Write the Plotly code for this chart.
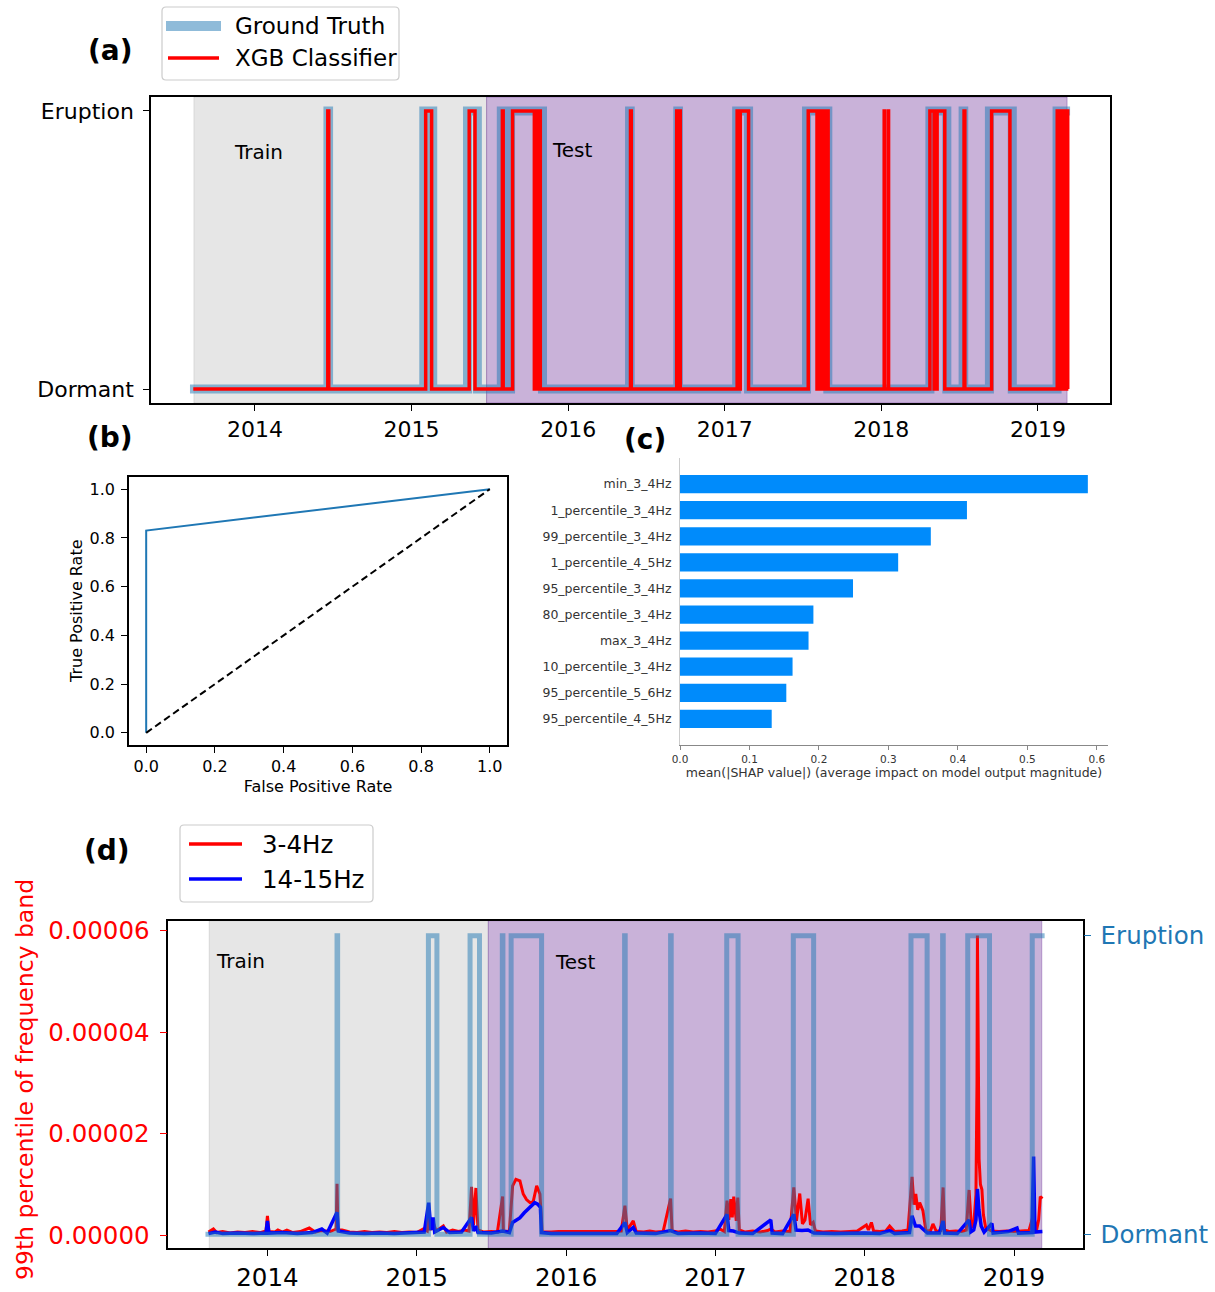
import plotly.graph_objects as go

# ---------------- data ----------------
# Panel (a)/(d): time axis in decimal years
DATA_START = 2013.585
DATA_END = 2019.205
TRAIN_START = 2013.61
SPLIT = 2015.479
TEST_END = 2019.186

GT_START = [2014.466, 2015.078, 2015.357, 2015.573, 2015.632, 2016.392, 2016.700,
            2017.076, 2017.522, 2018.310, 2018.522, 2018.690, 2019.122]
GT_END = [2014.470, 2015.135, 2015.420, 2015.577, 2015.836, 2016.396, 2016.704,
          2017.152, 2017.658, 2018.418, 2018.526, 2018.836, 2019.205]

XGB_START = [2014.465, 2015.090, 2015.368, 2015.580, 2015.645, 2015.789, 2015.800, 2015.811,
             2016.398, 2016.693, 2016.705, 2017.079, 2017.099, 2017.533, 2017.596, 2017.614,
             2017.632, 2017.648, 2018.018, 2018.044, 2018.310, 2018.341, 2018.356, 2018.528,
             2018.704, 2019.123, 2019.133, 2019.143, 2019.153, 2019.163, 2019.173, 2019.183]
XGB_END = [2014.471, 2015.128, 2015.405, 2015.585, 2015.784, 2015.795, 2015.806, 2015.822,
           2016.403, 2016.700, 2016.716, 2017.095, 2017.152, 2017.589, 2017.608, 2017.626,
           2017.642, 2017.660, 2018.020, 2018.046, 2018.337, 2018.352, 2018.405, 2018.533,
           2018.821, 2019.129, 2019.139, 2019.149, 2019.159, 2019.169, 2019.179, 2019.190]
XGB_DATA_START = 2013.606
XGB_DATA_END = 2019.193

YEAR_TICKS = [2014, 2015, 2016, 2017, 2018, 2019]
YEAR_LABELS = ["2014", "2015", "2016", "2017", "2018", "2019"]

# Panel (b): ROC
FPR = [0.0, 0.0, 1.0]
TPR = [0.0, 0.83, 1.0]

# Panel (c): SHAP importance
FEATURES = ["min_3_4Hz", "1_percentile_3_4Hz", "99_percentile_3_4Hz", "1_percentile_4_5Hz",
            "95_percentile_3_4Hz", "80_percentile_3_4Hz", "max_3_4Hz", "10_percentile_3_4Hz",
            "95_percentile_5_6Hz", "95_percentile_4_5Hz"]
SHAP_VALUES = [0.587, 0.413, 0.361, 0.314, 0.249, 0.192, 0.185, 0.162, 0.153, 0.132]

# Panel (d): 99th percentile of frequency band (values in units of 1e-6)
RED_T = [2013.605, 2013.638, 2013.66, 2013.70, 2013.75, 2013.80, 2013.85, 2013.90, 2013.95, 2013.99,
         2014.00, 2014.01, 2014.05, 2014.07, 2014.10, 2014.13, 2014.17, 2014.22, 2014.28, 2014.32,
         2014.36, 2014.42, 2014.46, 2014.466, 2014.472, 2014.50, 2014.55, 2014.60, 2014.65, 2014.70,
         2014.75, 2014.80, 2014.85, 2014.90, 2014.95, 2015.00, 2015.044, 2015.07, 2015.08, 2015.09,
         2015.11, 2015.13, 2015.178, 2015.20, 2015.24, 2015.28, 2015.32, 2015.35, 2015.367, 2015.38,
         2015.396, 2015.41, 2015.45, 2015.50, 2015.54, 2015.575, 2015.58, 2015.62, 2015.642, 2015.664,
         2015.691, 2015.713, 2015.735, 2015.758, 2015.78, 2015.803, 2015.825, 2015.84, 2015.90, 2015.95,
         2016.34, 2016.37, 2016.394, 2016.41, 2016.45, 2016.47, 2016.52, 2016.56, 2016.60, 2016.65,
         2016.70, 2016.71, 2016.75, 2016.80, 2016.85, 2016.90, 2016.95, 2017.00, 2017.03, 2017.06,
         2017.078, 2017.09, 2017.103, 2017.113, 2017.123, 2017.14, 2017.15, 2017.16, 2017.20, 2017.25,
         2017.30, 2017.35, 2017.371, 2017.40, 2017.45, 2017.50, 2017.525, 2017.543, 2017.565, 2017.583,
         2017.600, 2017.621, 2017.637, 2017.655, 2017.67, 2017.72, 2017.78, 2017.84, 2017.90, 2017.95,
         2018.011, 2018.025, 2018.045, 2018.06, 2018.10, 2018.14, 2018.167, 2018.20, 2018.25, 2018.29,
         2018.317, 2018.33, 2018.342, 2018.355, 2018.368, 2018.39, 2018.41, 2018.44, 2018.457, 2018.48,
         2018.51, 2018.525, 2018.535, 2018.57, 2018.61, 2018.65, 2018.68, 2018.699, 2018.715, 2018.73,
         2018.745, 2018.752, 2018.755, 2018.759, 2018.766, 2018.775, 2018.785, 2018.795, 2018.81, 2018.85,
         2018.90, 2018.95, 2019.00, 2019.05, 2019.10, 2019.131, 2019.15, 2019.165, 2019.176, 2019.19]
RED_V = [0.6, 1.2, 0.5, 0.7, 0.4, 0.6, 0.5, 0.7, 0.5, 0.8,
         3.8, 0.7, 0.6, 1.0, 0.6, 1.0, 0.5, 0.7, 1.4, 0.6,
         0.9, 0.7, 1.2, 10.1, 1.0, 1.0, 0.6, 0.5, 0.7, 0.5,
         0.6, 0.5, 0.7, 0.5, 0.6, 0.5, 1.2, 0.8, 5.0, 1.0,
         2.5, 0.8, 1.8, 0.6, 1.0, 0.7, 1.0, 0.8, 9.5, 2.0,
         9.3, 1.0, 0.6, 0.7, 0.6, 7.6, 0.8, 0.7, 9.7, 11.0,
         10.7, 8.1, 7.0, 6.4, 6.6, 9.7, 8.1, 0.6, 0.6, 0.7,
         0.7, 0.8, 5.8, 1.0, 2.8, 0.7, 0.6, 0.8, 0.6, 0.7,
         7.2, 0.8, 0.6, 0.8, 0.6, 0.7, 0.6, 0.8, 1.2, 0.7,
         6.8, 3.0, 7.1, 3.5, 7.6, 2.8, 7.4, 1.0, 0.6, 0.8,
         0.6, 0.9, 1.2, 0.6, 0.8, 0.7, 9.4, 2.8, 8.2, 2.2,
         3.0, 7.2, 2.0, 2.5, 0.8, 0.6, 0.7, 0.6, 0.7, 0.8,
         2.0, 1.0, 2.5, 0.8, 0.7, 0.8, 1.8, 0.7, 0.8, 1.0,
         11.5, 6.0, 8.1, 5.0, 6.4, 4.8, 0.9, 0.8, 2.2, 0.7,
         0.9, 9.4, 1.0, 0.7, 0.8, 0.7, 1.0, 8.9, 1.5, 2.0,
         8.0, 30.0, 59.1, 35.0, 15.0, 10.0, 9.0, 4.0, 1.5, 0.8,
         0.7, 0.8, 0.7, 0.8, 0.9, 4.1, 0.8, 3.0, 7.6, 7.2]

BLUE_T = [2013.605, 2013.65, 2013.70, 2013.80, 2013.90, 2013.99, 2014.00, 2014.01, 2014.10, 2014.20,
          2014.30, 2014.364, 2014.40, 2014.466, 2014.475, 2014.55, 2014.65, 2014.75, 2014.85, 2014.95,
          2015.05, 2015.08, 2015.095, 2015.11, 2015.12, 2015.178, 2015.22, 2015.30, 2015.367, 2015.38,
          2015.396, 2015.41, 2015.50, 2015.575, 2015.62, 2015.642, 2015.66, 2015.69, 2015.72, 2015.76,
          2015.79, 2015.81, 2015.828, 2015.835, 2015.90, 2016.34, 2016.394, 2016.41, 2016.45, 2016.47,
          2016.60, 2016.70, 2016.75, 2016.90, 2017.00, 2017.078, 2017.09, 2017.12, 2017.16, 2017.25,
          2017.371, 2017.38, 2017.45, 2017.525, 2017.54, 2017.58, 2017.62, 2017.66, 2017.80, 2018.00,
          2018.10, 2018.167, 2018.20, 2018.30, 2018.317, 2018.34, 2018.368, 2018.39, 2018.42, 2018.50,
          2018.525, 2018.535, 2018.62, 2018.699, 2018.71, 2018.73, 2018.745, 2018.755, 2018.765, 2018.78,
          2018.80, 2018.852, 2018.86, 2018.96, 2019.02, 2019.03, 2019.12, 2019.131, 2019.14, 2019.19]
BLUE_V = [0.3, 0.6, 0.3, 0.4, 0.3, 0.4, 2.8, 0.4, 0.5, 0.3,
          0.5, 1.2, 0.4, 4.5, 0.8, 0.4, 0.3, 0.4, 0.3, 0.4,
          0.6, 6.4, 1.0, 3.5, 0.6, 1.5, 0.5, 0.6, 3.5, 0.8,
          1.8, 0.5, 0.4, 0.8, 0.5, 2.5, 2.9, 3.4, 4.4, 5.6,
          6.4, 6.1, 5.5, 0.5, 0.3, 0.3, 2.5, 0.5, 1.5, 0.4,
          0.3, 0.9, 0.3, 0.4, 0.3, 4.1, 0.9, 0.8, 0.4, 0.3,
          3.0, 0.4, 0.3, 4.1, 1.0, 0.9, 1.0, 0.4, 0.3, 0.4,
          0.3, 0.9, 0.3, 0.5, 3.8, 1.8, 1.8, 1.2, 0.4, 0.4,
          2.8, 0.4, 0.3, 3.0, 0.6, 1.0, 3.0, 9.1, 5.0, 1.8,
          0.6, 2.3, 0.4, 0.7, 1.4, 0.4, 0.5, 15.5, 0.6, 0.7]


def step_series(t0, t1, starts, ends):
    xs, ys = [t0], [0]
    for s, e in zip(starts, ends):
        xs += [s, s]
        ys += [0, 1]
        if e >= t1:
            xs.append(t1)
            ys.append(1)
            return xs, ys
        xs += [e, e]
        ys += [1, 0]
    xs.append(t1)
    ys.append(0)
    return xs, ys


gt_x, gt_y = step_series(DATA_START, DATA_END, GT_START, GT_END)
xgb_x, xgb_y = step_series(XGB_DATA_START, XGB_DATA_END, XGB_START, XGB_END)
red_vals = [v * 1e-6 for v in RED_V]
blue_vals = [v * 1e-6 for v in BLUE_V]

# ---------------- layout helpers ----------------
W, H = 1215, 1292


def px(x):
    return x / W


def py(y):
    return 1 - y / H


def dx(a, b):
    return [a / W, b / W]


def dy(top, bottom):
    return [1 - bottom / H, 1 - top / H]


def rounded_box(x0, y0, x1, y1, r=4):
    rx, ry = r / W, r / H
    X0, X1, T, B = px(x0), px(x1), py(y0), py(y1)
    return (f"M {X0 + rx},{T} L {X1 - rx},{T} Q {X1},{T} {X1},{T - ry} "
            f"L {X1},{B + ry} Q {X1},{B} {X1 - rx},{B} L {X0 + rx},{B} "
            f"Q {X0},{B} {X0},{B + ry} L {X0},{T - ry} Q {X0},{T} {X0 + rx},{T} Z")


FONT = "DejaVu Sans"
GT_COLOR = "rgba(31,119,180,0.5)"
TRAIN_FILL = "rgba(128,128,128,0.2)"
TEST_FILL = "rgba(75,0,130,0.3)"
XRANGE = [2013.336, 2019.46]

fig = go.Figure()

# (a)
fig.add_trace(go.Scatter(x=gt_x, y=gt_y, mode="lines", name="Ground Truth",
                         line=dict(color=GT_COLOR, width=9), xaxis="x", yaxis="y", showlegend=False))
fig.add_trace(go.Scatter(x=xgb_x, y=xgb_y, mode="lines", name="XGB Classifier",
                         line=dict(color="red", width=3.5), xaxis="x", yaxis="y", showlegend=False))

# (b)
fig.add_trace(go.Scatter(x=FPR, y=TPR, mode="lines", line=dict(color="#1f77b4", width=2),
                         xaxis="x2", yaxis="y2", showlegend=False))
fig.add_trace(go.Scatter(x=[0, 1], y=[0, 1], mode="lines",
                         line=dict(color="black", width=2, dash="7px,4px"),
                         xaxis="x2", yaxis="y2", showlegend=False))

# (c)
fig.add_trace(go.Bar(x=SHAP_VALUES, y=FEATURES, orientation="h", marker=dict(color="#008bfb", line=dict(width=0)),
                     width=0.7, xaxis="x3", yaxis="y3", showlegend=False))

# (d)
fig.add_trace(go.Scatter(x=RED_T, y=red_vals, mode="lines", name="3-4Hz",
                         line=dict(color="red", width=3), xaxis="x4", yaxis="y4", showlegend=False))
fig.add_trace(go.Scatter(x=BLUE_T, y=blue_vals, mode="lines", name="14-15Hz",
                         line=dict(color="#0000ff", width=3.5), xaxis="x4", yaxis="y4", showlegend=False))
fig.add_trace(go.Scatter(x=gt_x, y=gt_y, mode="lines", line=dict(color=GT_COLOR, width=5),
                         xaxis="x4", yaxis="y5", showlegend=False))

shapes = []
for xr, yr in (("x", "y domain"), ("x4", "y4 domain")):
    shapes.append(dict(type="rect", xref=xr, yref=yr, x0=TRAIN_START, x1=SPLIT, y0=0, y1=1,
                       fillcolor=TRAIN_FILL, line=dict(color=TRAIN_FILL, width=1), layer="below"))
    shapes.append(dict(type="rect", xref=xr, yref=yr, x0=SPLIT, x1=TEST_END, y0=0, y1=1,
                       fillcolor=TEST_FILL, line=dict(color=TEST_FILL, width=1), layer="below"))

annotations = []

# Legends (drawn as boxes, line samples and text)
LEGENDS = [
    dict(box=(162, 7, 399, 80), size=23,
         items=[("Ground Truth", GT_COLOR, 10, 166, 221, 26, 233),
                ("XGB Classifier", "red", 3.5, 168, 219, 58, 233)]),
    dict(box=(180, 825, 373, 902), size=24.5,
         items=[("3-4Hz", "red", 3.3, 189, 242, 844, 260),
                ("14-15Hz", "#0000ff", 3.3, 189, 242, 879, 260)]),
]
for lg in LEGENDS:
    x0, y0, x1, y1 = lg["box"]
    shapes.append(dict(type="path", xref="paper", yref="paper", path=rounded_box(x0, y0, x1, y1),
                       fillcolor="rgba(255,255,255,0.85)", line=dict(color="#cccccc", width=1.2), layer="above"))
    for label, col, lw, lx0, lx1, ly, tx in lg["items"]:
        shapes.append(dict(type="line", xref="paper", yref="paper", x0=px(lx0), x1=px(lx1), y0=py(ly), y1=py(ly),
                           line=dict(color=col, width=lw), layer="above"))
        annotations.append(dict(text=label, x=px(tx), y=py(ly), xref="paper", yref="paper", showarrow=False,
                                xanchor="left", yanchor="middle",
                                font=dict(family=FONT, size=lg["size"], color="black")))

for t, x, y in (("(a)", 110, 50), ("(b)", 110, 437), ("(c)", 645, 440), ("(d)", 107, 851)):
    annotations.append(dict(text=f"<b>{t}</b>", x=px(x), y=py(y), xref="paper", yref="paper", showarrow=False,
                            xanchor="center", yanchor="middle", font=dict(family=FONT, size=28, color="black")))
for txt, x, y, fs in (("Train", 258, 152, 20), ("Test", 572, 150, 20),
                      ("Train", 240, 961, 20), ("Test", 575, 962, 20)):
    annotations.append(dict(text=txt, x=px(x), y=py(y), xref="paper", yref="paper", showarrow=False,
                            xanchor="center", yanchor="middle", font=dict(family=FONT, size=fs, color="black")))

# rotated y-axis titles
annotations.append(dict(text="True Positive Rate", x=px(76), y=py(611), xref="paper", yref="paper",
                        showarrow=False, textangle=-90, xanchor="center", yanchor="middle",
                        font=dict(family=FONT, size=16, color="black")))
annotations.append(dict(text="99th percentile of frequency band", x=px(25), y=py(1080), xref="paper",
                        yref="paper", showarrow=False, textangle=-90, xanchor="center", yanchor="middle",
                        font=dict(family=FONT, size=23.5, color="red")))

frame = dict(showline=True, linecolor="black", linewidth=1.5, mirror=True, automargin=False,
             showgrid=False, zeroline=False, ticks="outside", ticklen=6, tickwidth=1.3, tickcolor="black")

fig.update_layout(
    width=W, height=H, margin=dict(l=0, r=0, t=0, b=0, autoexpand=False),
    paper_bgcolor="white", plot_bgcolor="white", showlegend=False,
    font=dict(family=FONT, color="black"),
    shapes=shapes, annotations=annotations,
    # (a)
    xaxis=dict(domain=dx(151, 1110), anchor="y", range=XRANGE, tickvals=YEAR_TICKS, ticktext=YEAR_LABELS,
               tickfont=dict(size=22), ticklabelstandoff=0, **frame),
    yaxis=dict(domain=dy(97, 403), anchor="x", range=[-0.05, 1.05], tickvals=[0, 1],
               ticktext=["Dormant", "Eruption"], tickfont=dict(size=22), ticklabelstandoff=5, **frame),
    # (b)
    xaxis2=dict(domain=dx(129, 507), anchor="y2", range=[-0.05, 1.05], dtick=0.2, tickformat=".1f",
                tickfont=dict(size=16), title=dict(text="False Positive Rate", font=dict(size=16), standoff=6),
                **frame),
    yaxis2=dict(domain=dy(477, 745), anchor="x2", range=[-0.05, 1.05], dtick=0.2, tickformat=".1f",
                tickfont=dict(size=16), ticklabelstandoff=3, **frame),
    # (c)
    xaxis3=dict(domain=dx(680, 1108), anchor="y3", range=[0, 0.616], dtick=0.1, tickformat=".1f",
                showline=True, linecolor="#888888", linewidth=1, showgrid=False, zeroline=False, automargin=False,
                ticks="outside", ticklen=4, tickcolor="#888888", tickfont=dict(size=10.5, color="#333333"),
                title=dict(text="mean(|SHAP value|) (average impact on model output magnitude)",
                           font=dict(size=12.5, color="#333333"), standoff=4)),
    yaxis3=dict(domain=dy(458, 745), anchor="x3", type="category", categoryorder="array",
                categoryarray=FEATURES, range=[10, -1], showline=True, linecolor="#cccccc", linewidth=1,
                showgrid=False, zeroline=False, automargin=False, ticks="",
                tickfont=dict(size=12.5, color="#333333"), ticklabelstandoff=5),
    # (d)
    xaxis4=dict(domain=dx(168.3, 1082.7), anchor="y4", range=XRANGE, tickvals=YEAR_TICKS, ticktext=YEAR_LABELS,
                tickfont=dict(size=24.5), ticklabelstandoff=1, **frame),
    yaxis4=dict(domain=dy(920.7, 1248.3), anchor="x4", range=[-0.0000026, 0.0000620],
                tickvals=[0, 0.00002, 0.00004, 0.00006],
                ticktext=["0.00000", "0.00002", "0.00004", "0.00006"],
                tickfont=dict(size=24.5, color="red"), ticklabelstandoff=5,
                showline=True, linecolor="black", linewidth=1.5, mirror=True, showgrid=False, zeroline=False,
                automargin=False, ticks="outside", ticklen=7, tickwidth=1.3, tickcolor="red"),
    yaxis5=dict(overlaying="y4", anchor="x4", side="right", range=[-0.047, 1.05], tickvals=[0, 1],
                ticktext=["Dormant", "Eruption"], tickfont=dict(size=24.5, color="#1f77b4"), ticklabelstandoff=5,
                showline=False, showgrid=False, zeroline=False, automargin=False, ticks="outside", ticklen=7,
                tickwidth=1.3, tickcolor="#1f77b4"),
)

fig.write_html("out.html")
